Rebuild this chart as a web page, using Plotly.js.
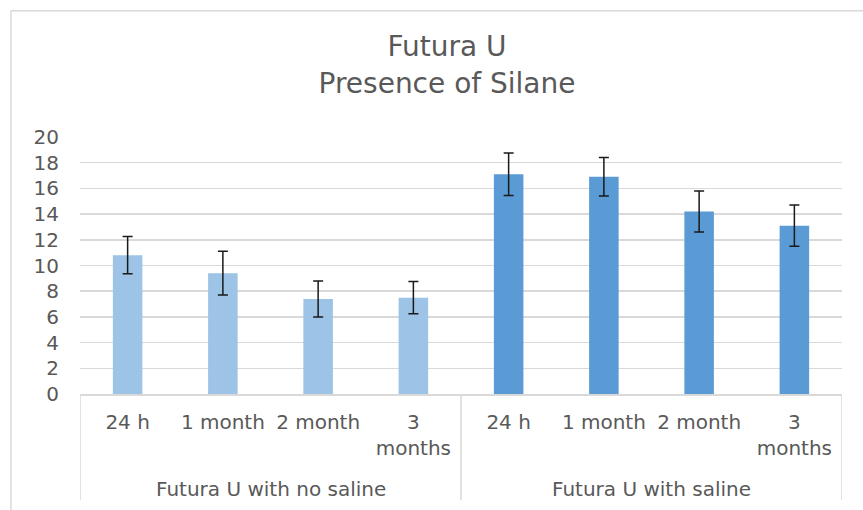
<!DOCTYPE html>
<html>
<head>
<meta charset="utf-8">
<script src="https://cdn.plot.ly/plotly-3.0.1.min.js"></script>
<style>
  html, body { margin: 0; padding: 0; background: #ffffff; }
  #chart { width: 863px; height: 510px; }
</style>
</head>
<body>
<div id="chart"></div>
<script>
// ---- data ----
const groups = ["Futura U with no saline", "Futura U with saline"];
const timepoints = ["24 h", "1 month", "2 month", "3<br>months"];
const noSalineValues = [10.8, 9.4, 7.4, 7.5];
const noSalineErrors = [1.45, 1.7, 1.4, 1.25];
const salineValues = [17.1, 16.9, 14.2, 13.1];
const salineErrors = [1.65, 1.5, 1.6, 1.6];
const yTicks = [0, 2, 4, 6, 8, 10, 12, 14, 16, 18, 20];

const FONT = "DejaVu Sans";
const TXT = "#595959";
const GRID = "#d9d9d9";

const nCat = timepoints.length;
const xNo = timepoints.map((_, i) => i);
const xSal = timepoints.map((_, i) => i + nCat);
const allTickText = timepoints.concat(timepoints);
const allTickVals = allTickText.map((_, i) => i);

const errStyle = { type: "data", visible: true, color: "#1a1a1a", thickness: 1.5, width: 5 };

const traces = [
  {
    type: "bar", name: groups[0], x: xNo, y: noSalineValues, width: 0.31,
    marker: { color: "#9dc3e6" },
    error_y: Object.assign({ array: noSalineErrors }, errStyle),
    hoverinfo: "y"
  },
  {
    type: "bar", name: groups[1], x: xSal, y: salineValues, width: 0.31,
    marker: { color: "#5b9bd5" },
    error_y: Object.assign({ array: salineErrors }, errStyle),
    hoverinfo: "y"
  }
];

const bottomDepth = -0.413;
const shapes = [];
// category frame dividers below the axis
[-0.5, nCat - 0.5, 2 * nCat - 0.5].forEach(xv => {
  shapes.push({ type: "line", xref: "x", yref: "paper", x0: xv, x1: xv, y0: 0, y1: bottomDepth,
    line: { color: GRID, width: 1.5 } });
});
// outer chart border (left and top)
shapes.push({ type: "line", xref: "paper", yref: "paper", x0: -0.0906, x1: -0.0906, y0: 1.4915, y1: -1,
  line: { color: GRID, width: 1.5 } });
shapes.push({ type: "line", xref: "paper", yref: "paper", x0: -0.0906, x1: 1.2, y0: 1.4915, y1: 1.4915,
  line: { color: GRID, width: 1.5 } });

const annotations = groups.map((g, gi) => ({
  text: g, xref: "x", yref: "paper", x: gi * nCat + (nCat - 1) / 2, y: -0.37,
  xanchor: "center", yanchor: "middle", showarrow: false,
  font: { family: FONT, size: 20, color: TXT }
}));

const layout = {
  width: 863, height: 510,
  margin: { l: 80, r: 21, t: 137, b: 115.5, pad: 0 },
  paper_bgcolor: "#ffffff", plot_bgcolor: "#ffffff",
  showlegend: false,
  barmode: "overlay",
  title: {
    text: "Futura U<br>Presence of Silane",
    font: { family: FONT, size: 28, color: TXT },
    xref: "container", yref: "container",
    x: 0.518, xanchor: "center", y: 0.89, yanchor: "top"
  },
  xaxis: {
    type: "linear", range: [-0.5, 2 * nCat - 0.5],
    tickmode: "array", tickvals: allTickVals, ticktext: allTickText,
    showgrid: false, zeroline: false,
    showline: true, linecolor: GRID, linewidth: 1.5,
    ticks: "", ticklabelstandoff: 9,
    tickfont: { family: FONT, size: 20, color: TXT },
    fixedrange: true
  },
  yaxis: {
    range: [0, 20], tickmode: "array", tickvals: yTicks,
    showgrid: true, gridcolor: GRID, gridwidth: 1.5,
    zeroline: false, showline: false, ticks: "",
    ticklabelstandoff: 20,
    tickfont: { family: FONT, size: 20, color: TXT },
    fixedrange: true
  },
  shapes: shapes,
  annotations: annotations
};

Plotly.newPlot("chart", traces, layout, { displayModeBar: false, staticPlot: true });
</script>
</body>
</html>
